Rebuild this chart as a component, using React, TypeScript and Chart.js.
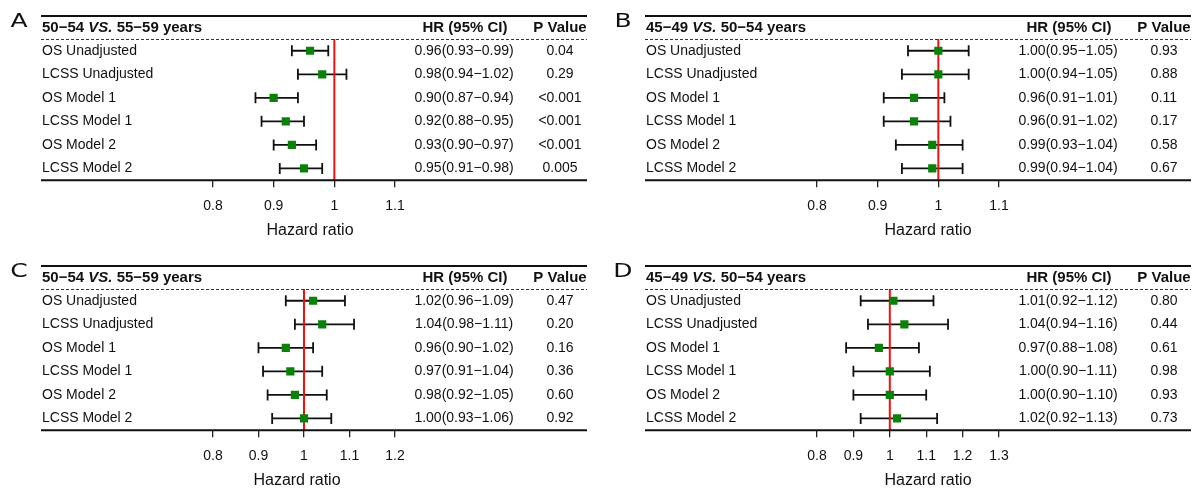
import React, { useEffect, useRef } from 'react';
import { Chart, registerables } from 'chart.js';

Chart.register(...registerables);

const FONT = '"Liberation Sans", Arial, sans-serif';
const TEXT = '#111';

const rowLabels = ['OS Unadjusted', 'LCSS Unadjusted', 'OS Model 1', 'LCSS Model 1', 'OS Model 2', 'LCSS Model 2'];

// Panel A: 50-54 vs 55-59 years
const hrA = [0.96, 0.98, 0.90, 0.92, 0.93, 0.95];
const loA = [0.93, 0.94, 0.87, 0.88, 0.90, 0.91];
const hiA = [0.99, 1.02, 0.94, 0.95, 0.97, 0.98];
const pA = ['0.04', '0.29', '<0.001', '<0.001', '<0.001', '0.005'];

// Panel B: 45-49 vs 50-54 years
const hrB = [1.00, 1.00, 0.96, 0.96, 0.99, 0.99];
const loB = [0.95, 0.94, 0.91, 0.91, 0.93, 0.94];
const hiB = [1.05, 1.05, 1.01, 1.02, 1.04, 1.04];
const pB = ['0.93', '0.88', '0.11', '0.17', '0.58', '0.67'];

// Panel C: 50-54 vs 55-59 years
const hrC = [1.02, 1.04, 0.96, 0.97, 0.98, 1.00];
const loC = [0.96, 0.98, 0.90, 0.91, 0.92, 0.93];
const hiC = [1.09, 1.11, 1.02, 1.04, 1.05, 1.06];
const pC = ['0.47', '0.20', '0.16', '0.36', '0.60', '0.92'];

// Panel D: 45-49 vs 50-54 years
const hrD = [1.01, 1.04, 0.97, 1.00, 1.00, 1.02];
const loD = [0.92, 0.94, 0.88, 0.90, 0.90, 0.92];
const hiD = [1.12, 1.16, 1.08, 1.11, 1.10, 1.13];
const pD = ['0.80', '0.44', '0.61', '0.98', '0.93', '0.73'];

const ticksAB = [0.8, 0.9, 1, 1.1];
const tickLabelsAB = ['0.8', '0.9', '1', '1.1'];
const ticksC = [0.8, 0.9, 1, 1.1, 1.2];
const tickLabelsC = ['0.8', '0.9', '1', '1.1', '1.2'];
const ticksD = [0.8, 0.9, 1, 1.1, 1.2, 1.3];
const tickLabelsD = ['0.8', '0.9', '1', '1.1', '1.2', '1.3'];

const titleOld = ['50\u221254 ', 'VS.', ' 55\u221259 years'];
const titleYoung = ['45\u221249 ', 'VS.', ' 50\u221254 years'];

const headerHR = 'HR (95% CI)';
const headerP = 'P Value';
const axisTitle = 'Hazard ratio';

interface PanelCfg {
  letter: string;
  title: string[];
  hr: number[];
  lo: number[];
  hi: number[];
  p: string[];
  ticks: number[];
  tickLabels: string[];
  left: number;
  top: number;
  axisTitleX: number;
}

const panels: PanelCfg[] = [
  { letter: 'A', title: titleOld, hr: hrA, lo: loA, hi: hiA, p: pA, ticks: ticksAB, tickLabels: tickLabelsAB, left: 0, top: 0, axisTitleX: 310 },
  { letter: 'B', title: titleYoung, hr: hrB, lo: loB, hi: hiB, p: pB, ticks: ticksAB, tickLabels: tickLabelsAB, left: 604, top: 0, axisTitleX: 324 },
  { letter: 'C', title: titleOld, hr: hrC, lo: loC, hi: hiC, p: pC, ticks: ticksC, tickLabels: tickLabelsC, left: 0, top: 250, axisTitleX: 297 },
  { letter: 'D', title: titleYoung, hr: hrD, lo: loD, hi: hiD, p: pD, ticks: ticksD, tickLabels: tickLabelsD, left: 604, top: 250, axisTitleX: 324 },
];

const W = 592;
const H = 242;
const LINE_L = 41;
const LINE_R = 587;
const HR_COL = 464;
const P_COL = 560;

const fmt = (v: number) => v.toFixed(2);

function forestPlugin(cfg: PanelCfg) {
  return {
    id: 'forest',
    beforeDatasetsDraw(chart: any) {
      const { ctx, chartArea, scales } = chart;
      const x = scales.x;
      const y = scales.y;
      ctx.save();
      ctx.strokeStyle = '#111';
      ctx.lineWidth = 1.8;
      cfg.hr.forEach((_, i) => {
        const yy = y.getPixelForValue(i);
        const x1 = x.getPixelForValue(cfg.lo[i]);
        const x2 = x.getPixelForValue(cfg.hi[i]);
        ctx.beginPath();
        ctx.moveTo(x1, yy);
        ctx.lineTo(x2, yy);
        ctx.moveTo(x1, yy - 5.5);
        ctx.lineTo(x1, yy + 5.5);
        ctx.moveTo(x2, yy - 5.5);
        ctx.lineTo(x2, yy + 5.5);
        ctx.stroke();
      });
      const xr = x.getPixelForValue(1);
      ctx.strokeStyle = '#f01010';
      ctx.lineWidth = 2;
      ctx.beginPath();
      ctx.moveTo(xr, chartArea.top);
      ctx.lineTo(xr, chartArea.bottom);
      ctx.stroke();
      ctx.restore();
    },
    afterDraw(chart: any) {
      const { ctx, chartArea, scales } = chart;
      const y = scales.y;
      ctx.save();
      // rules
      ctx.strokeStyle = '#111';
      ctx.lineWidth = 2;
      ctx.beginPath();
      ctx.moveTo(LINE_L, 16);
      ctx.lineTo(LINE_R, 16);
      ctx.moveTo(LINE_L, chartArea.bottom);
      ctx.lineTo(LINE_R, chartArea.bottom);
      ctx.stroke();
      ctx.lineWidth = 1;
      ctx.strokeStyle = '#333';
      ctx.setLineDash([3, 2]);
      ctx.beginPath();
      ctx.moveTo(LINE_L, chartArea.top + 0.5);
      ctx.lineTo(LINE_R, chartArea.top + 0.5);
      ctx.stroke();
      ctx.setLineDash([]);

      ctx.fillStyle = TEXT;
      ctx.textBaseline = 'middle';

      // panel letter
      ctx.save();
      ctx.translate(19, 22);
      ctx.scale(1.25, 1);
      ctx.font = `20px "DejaVu Sans", sans-serif`;
      ctx.textAlign = 'center';
      ctx.fillText(cfg.letter, 0, 0);
      ctx.restore();

      // title
      let tx = 42;
      const titleY = 28;
      ctx.textAlign = 'left';
      cfg.title.forEach((part, k) => {
        ctx.font = k === 1 ? `italic bold 15px ${FONT}` : `bold 15px ${FONT}`;
        ctx.fillText(part, tx, titleY);
        tx += ctx.measureText(part).width;
      });
      ctx.font = `bold 15px ${FONT}`;
      ctx.textAlign = 'center';
      ctx.fillText(headerHR, HR_COL + 1, titleY);
      ctx.fillText(headerP, P_COL, titleY);

      // rows
      ctx.font = `14px ${FONT}`;
      rowLabels.forEach((lab, i) => {
        const yy = y.getPixelForValue(i);
        ctx.textAlign = 'left';
        ctx.fillText(lab, 42, yy);
        ctx.textAlign = 'center';
        ctx.fillText(`${fmt(cfg.hr[i])}(${fmt(cfg.lo[i])}\u2212${fmt(cfg.hi[i])})`, HR_COL, yy);
        ctx.fillText(cfg.p[i], P_COL, yy);
      });

      // axis title
      ctx.font = `16px ${FONT}`;
      ctx.textAlign = 'center';
      ctx.fillText(axisTitle, cfg.axisTitleX, 231);
      ctx.restore();
    },
  };
}

function ForestPanel({ cfg }: { cfg: PanelCfg }) {
  const ref = useRef<HTMLCanvasElement>(null);
  useEffect(() => {
    const canvas = ref.current!;
    const chart = new Chart(canvas, {
      type: 'scatter',
      data: {
        datasets: [
          {
            data: cfg.hr.map((v, i) => ({ x: v, y: i })),
            pointStyle: 'rect',
            pointRadius: 5.8,
            pointHoverRadius: 5.8,
            backgroundColor: '#0a820a',
            borderColor: '#0a820a',
            borderWidth: 0,
          },
        ],
      },
      options: {
        responsive: false,
        animation: false,
        events: [],
        layout: { padding: { left: 213, right: W - 395, top: 39, bottom: 16 } },
        plugins: { legend: { display: false }, tooltip: { enabled: false } },
        scales: {
          x: {
            type: 'linear',
            min: cfg.ticks[0],
            max: cfg.ticks[cfg.ticks.length - 1],
            afterBuildTicks: (axis: any) => {
              axis.ticks = cfg.ticks.map((v) => ({ value: v }));
            },
            ticks: {
              callback: (_v: any, idx: number) => cfg.tickLabels[idx],
              font: { family: FONT, size: 14 },
              color: TEXT,
              padding: 11,
              maxRotation: 0,
              autoSkip: false,
            },
            grid: { display: true, drawOnChartArea: false, drawTicks: true, tickLength: 7, color: '#222', lineWidth: 1.3 },
            border: { display: false },
          },
          y: { type: 'linear', display: false, min: -0.5, max: 5.5, reverse: true },
        },
      } as any,
      plugins: [forestPlugin(cfg)],
    });
    return () => chart.destroy();
  }, [cfg]);
  return (
    <canvas
      ref={ref}
      width={W}
      height={H}
      style={{ position: 'absolute', left: cfg.left, top: cfg.top, width: W, height: H }}
    />
  );
}

export default function App() {
  return (
    <div style={{ position: 'absolute', left: 0, top: 0, width: 1196, height: 492, background: '#fff', overflow: 'hidden' }}>
      {panels.map((p) => (
        <ForestPanel key={p.letter} cfg={p} />
      ))}
    </div>
  );
}
